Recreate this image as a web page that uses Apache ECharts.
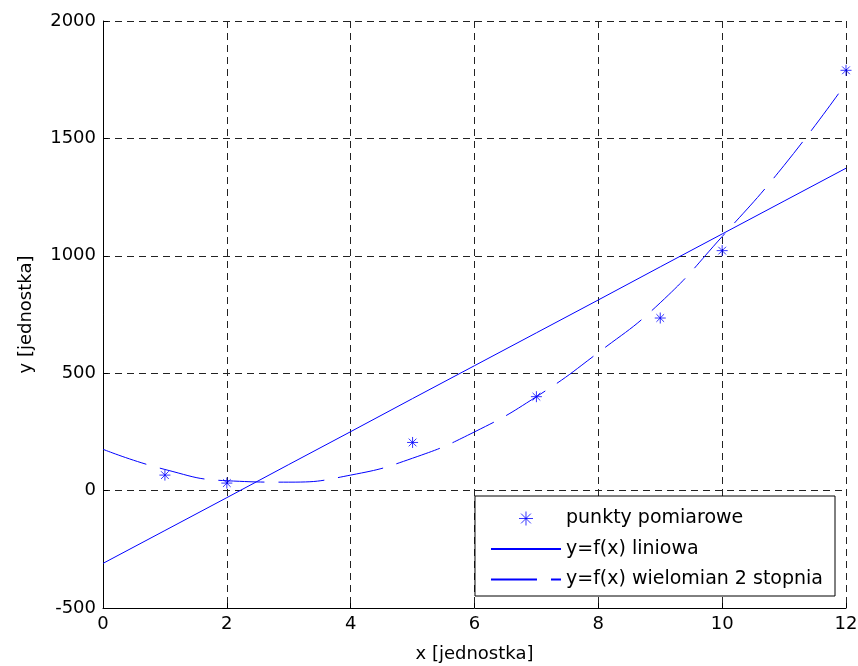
<!DOCTYPE html>
<html>
<head>
<meta charset="utf-8">
<script src="https://cdn.jsdelivr.net/npm/echarts@6/dist/echarts.min.js"></script>
<style>
  html, body { margin: 0; padding: 0; background: #fff; }
  #chart { width: 858px; height: 666px; }
</style>
</head>
<body>
<div id="chart"></div>
<script>
// measured points
const pointX = [1, 2, 5, 7, 9, 10, 12]
const pointY = [66, 32, 205, 400, 735, 1022, 1790]

// fitted curves
const fitX = [0, 1, 2, 3, 4, 5, 6, 7, 8, 9, 10, 11, 12]
const linearY = [-310, -170, -30, 111, 251, 392, 532, 672, 812, 953, 1093, 1233, 1373]
const quadY = [176, 90, 42, 36, 66, 138, 250, 400, 588, 800, 1082, 1385, 1735]

const seriesNames = ['punkty pomiarowe', 'y=f(x) liniowa', 'y=f(x) wielomian 2 stopnia']

const star = 'path://M5 0L5 10M0 5L10 5M1.5 1.5L8.5 8.5M8.5 1.5L1.5 8.5'
const blue = '#0000ff'
const font = '"DejaVu Sans", sans-serif'

const chart = echarts.init(document.getElementById('chart'))

const gridLine = { show: true, lineStyle: { color: '#222', type: [7, 5], width: 1 } }
const tick = { show: true, inside: true, length: 5, lineStyle: { color: '#000' } }

chart.setOption({
  animation: false,
  grid: { left: 103, right: 12, top: 21, bottom: 58, show: false, outerBoundsMode: 'none', containLabel: false },
  xAxis: {
    type: 'value', min: 0, max: 12, interval: 2,
    name: 'x [jednostka]', nameLocation: 'middle', nameGap: 37,
    nameTextStyle: { fontFamily: font, fontSize: 18, color: '#000' },
    axisLine: { show: true, onZero: false, lineStyle: { color: '#000' } },
    axisTick: tick,
    axisLabel: { fontFamily: font, fontSize: 18, color: '#000', margin: 7 },
    splitLine: gridLine
  },
  yAxis: {
    type: 'value', min: -500, max: 2000, interval: 500,
    name: 'y [jednostka]', nameLocation: 'middle', nameGap: 68,
    nameTextStyle: { fontFamily: font, fontSize: 18, color: '#000' },
    axisLine: { show: true, onZero: false, lineStyle: { color: '#000' } },
    axisTick: tick,
    axisLabel: { fontFamily: font, fontSize: 18, color: '#000', margin: 7, formatter: v => String(v) },
    splitLine: gridLine
  },
  legend: {
    orient: 'vertical', right: 23, bottom: 70,
    padding: [12, 12, 6, 15], itemGap: 9.5,
    itemWidth: 70, itemHeight: 14,
    backgroundColor: '#fff', borderColor: '#000', borderWidth: 1, borderRadius: 0,
    textStyle: { fontFamily: font, fontSize: 19, color: '#000', lineHeight: 21 },
    data: [
      { name: seriesNames[0], icon: star, itemStyle: { color: 'transparent', borderColor: blue, borderWidth: 1 } },
      { name: seriesNames[1], itemStyle: { color: 'transparent' } },
      { name: seriesNames[2], itemStyle: { color: 'transparent' } }
    ]
  },
  series: [
    {
      name: seriesNames[0], type: 'scatter', symbol: star, symbolSize: 11,
      itemStyle: { color: 'transparent', borderColor: blue, borderWidth: 1 },
      data: pointX.map((x, i) => [x, pointY[i]]),
      z: 5
    },
    {
      name: seriesNames[1], type: 'line', showSymbol: false, symbol: 'none',
      lineStyle: { color: blue, width: 1 }, itemStyle: { color: blue },
      data: fitX.map((x, i) => [x, linearY[i]])
    },
    {
      name: seriesNames[2], type: 'line', showSymbol: false, symbol: 'none', smooth: true,
      lineStyle: { color: blue, width: 1, type: [46, 14] }, itemStyle: { color: blue },
      data: fitX.map((x, i) => [x, quadY[i]])
    }
  ]
})
</script>
</body>
</html>
